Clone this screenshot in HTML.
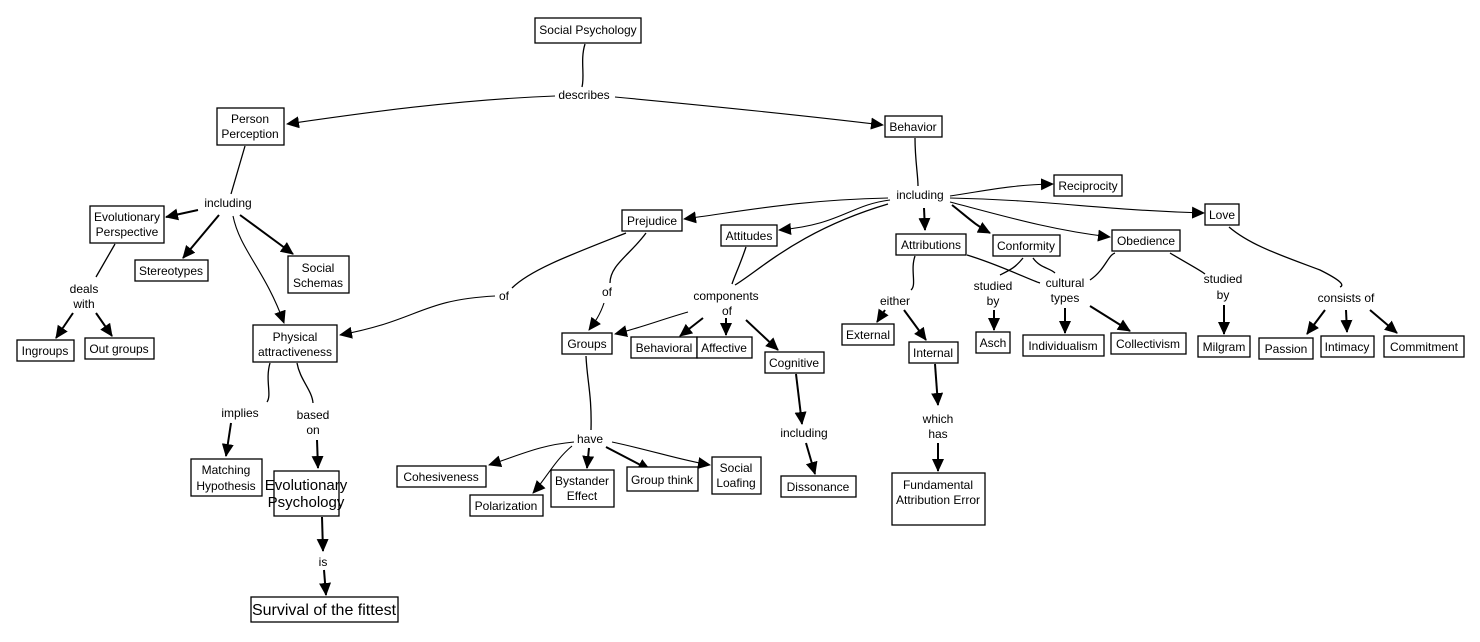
<!DOCTYPE html>
<html><head><meta charset="utf-8"><style>
html,body{margin:0;padding:0;background:#fff;}
svg{display:block;font-family:"Liberation Sans",Arial,sans-serif;}
rect{fill:#fff;stroke:#000;stroke-width:1.3}
text{font-size:12px;fill:#000;text-anchor:middle}
path{fill:none;stroke:#000;stroke-width:1.3}
path.a{stroke-width:2;marker-end:url(#ar)}
path.t{stroke-width:1.1;marker-end:url(#ar)}
</style></head><body>
<svg width="1480" height="642" viewBox="0 0 1480 642" xmlns="http://www.w3.org/2000/svg">
<defs><marker id="ar" markerUnits="userSpaceOnUse" markerWidth="14" markerHeight="12" refX="12" refY="6" orient="auto"><path d="M0,0 L13,6 L0,12 Z" style="fill:#000;stroke:none"/></marker></defs>
<g>
<path d="M585,44 C580,60 585,75 582,87"/>
<path class="t" d="M555,96 C450,100 350,115 287,124"/>
<path class="t" d="M615,97 C700,105 800,115 883,125"/>
<path d="M915,138 C915,160 918,175 918,186"/>
<path class="t" d="M950,196 C990,190 1010,185 1053,184"/>
<path class="t" d="M950,198 C1050,200 1100,210 1204,213"/>
<path class="t" d="M950,202 C1000,215 1050,230 1110,237"/>
<path class="a" d="M952,205 C965,215 975,225 990,233"/>
<path class="a" d="M924,208 L925,230"/>
<path class="t" d="M890,200 C850,205 840,225 779,230"/>
<path class="t" d="M888,198 C800,200 750,210 684,219"/>
<path d="M888,204 C800,230 760,270 735,285"/>
<path d="M746,247 C740,265 735,275 732,284"/>
<path d="M626,233 C570,255 530,270 512,288"/>
<path class="t" d="M495,296 C420,300 420,320 340,335"/>
<path d="M646,233 C630,255 610,265 610,283"/>
<path class="t" d="M604,303 C600,315 595,322 589,330"/>
<path class="t" d="M688,312 C660,320 640,328 615,334"/>
<path class="a" d="M703,318 L680,336"/>
<path class="a" d="M726,318 L726,335"/>
<path class="a" d="M746,320 L778,350"/>
<path class="a" d="M796,374 L802,424"/>
<path class="a" d="M806,443 L815,474"/>
<path d="M586,356 C587,380 592,395 591,430"/>
<path class="t" d="M574,442 C540,445 520,455 489,465"/>
<path class="t" d="M572,446 C555,460 545,480 533,493"/>
<path class="a" d="M589,448 L587,468"/>
<path class="a" d="M606,447 L650,470"/>
<path class="t" d="M612,442 C650,450 680,460 710,465"/>
<path d="M915,256 C910,270 917,285 911,290"/>
<path class="a" d="M885,310 L877,322"/>
<path class="a" d="M904,310 L926,340"/>
<path class="a" d="M935,364 L938,405"/>
<path class="a" d="M938,443 L938,471"/>
<path d="M967,255 C1000,265 1030,280 1040,283"/>
<path d="M1023,258 C1015,268 1010,270 1000,275"/>
<path class="a" d="M994,310 L994,330"/>
<path d="M1033,258 C1040,268 1050,268 1055,273"/>
<path d="M1090,280 C1105,270 1108,255 1115,253"/>
<path class="a" d="M1065,308 L1065,333"/>
<path class="a" d="M1090,306 L1130,331"/>
<path d="M1170,253 C1190,265 1200,270 1205,274"/>
<path class="a" d="M1224,305 L1224,334"/>
<path d="M1229,227 C1250,245 1280,255 1320,270 C1340,280 1345,285 1340,287"/>
<path class="a" d="M1325,310 L1307,334"/>
<path class="a" d="M1346,310 L1347,332"/>
<path class="a" d="M1370,310 L1397,333"/>
<path d="M245,146 L231,194"/>
<path class="a" d="M198,210 L166,217"/>
<path class="a" d="M219,215 L183,258"/>
<path class="a" d="M240,215 L293,254"/>
<path class="t" d="M233,216 C240,250 265,270 284,323"/>
<path d="M115,244 L96,277"/>
<path class="a" d="M73,313 L56,338"/>
<path class="a" d="M96,313 L112,336"/>
<path d="M270,363 C265,380 272,395 267,402"/>
<path class="a" d="M231,423 L226,456"/>
<path d="M297,363 C300,380 312,390 313,403"/>
<path class="a" d="M317,440 L318,468"/>
<path class="a" d="M322,517 L323,551"/>
<path class="a" d="M324,570 L326,595"/>
</g>
<g>
<rect x="535" y="18" width="106" height="25"/><text x="588" y="34">Social Psychology</text>
<rect x="217" y="108" width="67" height="37"/><text x="250" y="123">Person</text><text x="250" y="138">Perception</text>
<rect x="885" y="116" width="57" height="21"/><text x="913" y="131">Behavior</text>
<rect x="90" y="206" width="74" height="37"/><text x="127" y="221">Evolutionary</text><text x="127" y="236">Perspective</text>
<rect x="135" y="260" width="73" height="21"/><text x="171" y="275">Stereotypes</text>
<rect x="288" y="256" width="61" height="37"/><text x="318" y="272">Social</text><text x="318" y="287">Schemas</text>
<rect x="17" y="340" width="57" height="21"/><text x="45" y="355">Ingroups</text>
<rect x="85" y="338" width="69" height="21"/><text x="119" y="353">Out groups</text>
<rect x="253" y="325" width="84" height="37"/><text x="295" y="341">Physical</text><text x="295" y="356">attractiveness</text>
<rect x="191" y="459" width="71" height="37"/><text x="226" y="474">Matching</text><text x="226" y="490">Hypothesis</text>
<rect x="274" y="471" width="65" height="45"/><text x="306" y="490" style="font-size:15px">Evolutionary</text><text x="306" y="507" style="font-size:15px">Psychology</text>
<rect x="251" y="597" width="147" height="25"/><text x="324" y="615" style="font-size:16px">Survival of the fittest</text>
<rect x="622" y="210" width="60" height="21"/><text x="652" y="225">Prejudice</text>
<rect x="721" y="225" width="56" height="21"/><text x="749" y="240">Attitudes</text>
<rect x="562" y="333" width="50" height="21"/><text x="587" y="348">Groups</text>
<rect x="631" y="337" width="66" height="21"/><text x="664" y="352">Behavioral</text>
<rect x="697" y="337" width="55" height="21"/><text x="724" y="352">Affective</text>
<rect x="765" y="352" width="59" height="21"/><text x="794" y="367">Cognitive</text>
<rect x="397" y="466" width="89" height="21"/><text x="441" y="481">Cohesiveness</text>
<rect x="470" y="495" width="73" height="21"/><text x="506" y="510">Polarization</text>
<rect x="551" y="470" width="63" height="37"/><text x="582" y="485">Bystander</text><text x="582" y="500">Effect</text>
<rect x="627" y="467" width="71" height="24"/><text x="662" y="484">Group think</text>
<rect x="712" y="457" width="49" height="37"/><text x="736" y="472">Social</text><text x="736" y="487">Loafing</text>
<rect x="781" y="476" width="75" height="21"/><text x="818" y="491">Dissonance</text>
<rect x="896" y="234" width="70" height="21"/><text x="931" y="249">Attributions</text>
<rect x="842" y="324" width="52" height="21"/><text x="868" y="339">External</text>
<rect x="909" y="342" width="49" height="21"/><text x="933" y="357">Internal</text>
<rect x="892" y="473" width="93" height="52"/><text x="938" y="489">Fundamental</text><text x="938" y="504">Attribution Error</text>
<rect x="993" y="235" width="67" height="21"/><text x="1026" y="250">Conformity</text>
<rect x="1112" y="230" width="68" height="21"/><text x="1146" y="245">Obedience</text>
<rect x="1054" y="175" width="68" height="21"/><text x="1088" y="190">Reciprocity</text>
<rect x="1205" y="204" width="34" height="21"/><text x="1222" y="219">Love</text>
<rect x="976" y="332" width="34" height="21"/><text x="993" y="347">Asch</text>
<rect x="1023" y="335" width="81" height="21"/><text x="1063" y="350">Individualism</text>
<rect x="1111" y="333" width="75" height="21"/><text x="1148" y="348">Collectivism</text>
<rect x="1198" y="336" width="52" height="21"/><text x="1224" y="351">Milgram</text>
<rect x="1259" y="338" width="54" height="21"/><text x="1286" y="353">Passion</text>
<rect x="1321" y="336" width="53" height="21"/><text x="1347" y="351">Intimacy</text>
<rect x="1384" y="336" width="80" height="21"/><text x="1424" y="351">Commitment</text>
</g>
<g>
<text x="584" y="99">describes</text>
<text x="228" y="207">including</text>
<text x="84" y="293">deals</text><text x="84" y="308">with</text>
<text x="504" y="300">of</text>
<text x="607" y="296">of</text>
<text x="240" y="417">implies</text>
<text x="313" y="419">based</text><text x="313" y="434">on</text>
<text x="323" y="566">is</text>
<text x="920" y="199">including</text>
<text x="726" y="300">components</text><text x="727" y="315">of</text>
<text x="895" y="305">either</text>
<text x="993" y="290">studied</text><text x="993" y="305">by</text>
<text x="1065" y="287">cultural</text><text x="1065" y="302">types</text>
<text x="1223" y="283">studied</text><text x="1223" y="299">by</text>
<text x="1346" y="302">consists of</text>
<text x="590" y="443">have</text>
<text x="804" y="437">including</text>
<text x="938" y="423">which</text><text x="938" y="438">has</text>
</g>
</svg>
</body></html>
